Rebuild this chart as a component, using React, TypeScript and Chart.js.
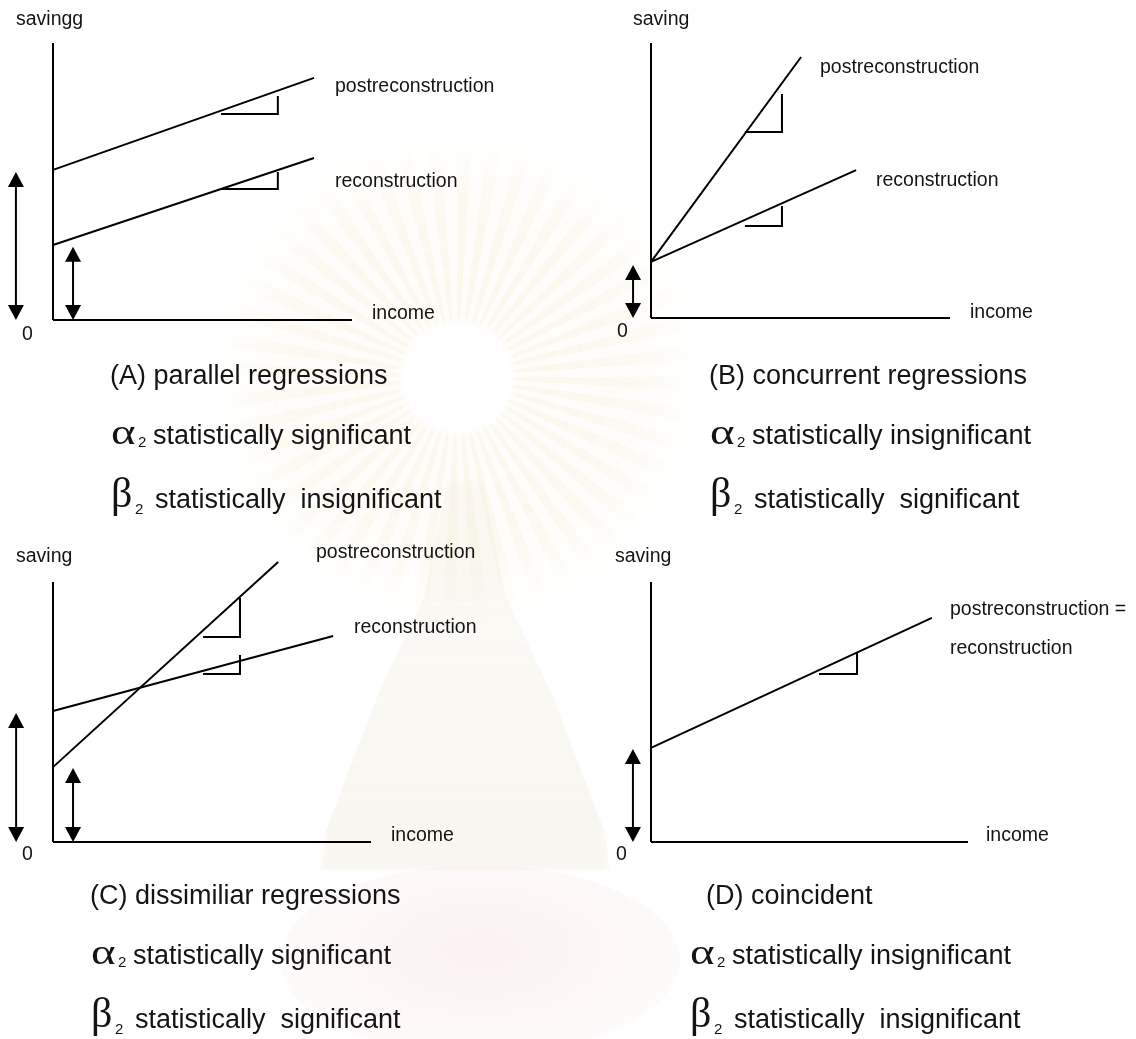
import React, { useEffect, useRef } from "react";
import { Chart, registerables } from "chart.js";

Chart.register(...registerables);

// ---------------- data ----------------
const captionTitles = [
  "(A) parallel regressions",
  "(B) concurrent regressions",
  "(C) dissimiliar regressions",
  "(D) coincident",
];
const alphaVerdicts = ["statistically significant", "statistically insignificant", "statistically significant", "statistically insignificant"];
const betaVerdicts = ["statistically  insignificant", "statistically  significant", "statistically  significant", "statistically  insignificant"];
const yAxisLabels = ["savingg", "saving", "saving", "saving"];
const xAxisLabel = "income";
const originLabel = "0";
const postLabels = ["postreconstruction", "postreconstruction", "postreconstruction", "postreconstruction ="];
const recoLabels = ["reconstruction", "reconstruction", "reconstruction", "reconstruction"];

const incomeAxisMax = 10;
const savingAxisMax = 10;

// postreconstruction regression line: intercept, end point
const postIntercept = [5.42, 2.04, 2.88, 3.62];
const postEndIncome = [8.73, 5.02, 7.08, 8.86];
const postEndSaving = [8.74, 9.49, 10.77, 8.62];
// reconstruction regression line (D: coincides with postreconstruction)
const recoIntercept: (number | null)[] = [2.71, 2.04, 5.04, null];
const recoEndIncome: (number | null)[] = [8.73, 6.86, 8.81, null];
const recoEndSaving: (number | null)[] = [5.85, 5.38, 7.92, null];

// slope markers [from, to]
const postSlopeIncome = [[5.62, 7.52], [3.14, 4.38], [4.72, 5.88], [5.3, 6.5]];
const postSlopeSaving = [[7.44, 8.09], [6.76, 8.15], [7.88, 9.38], [6.46, 7.27]];
const recoSlopeIncome: (number[] | null)[] = [[5.62, 7.52], [3.14, 4.38], [4.72, 5.88], null];
const recoSlopeSaving: (number[] | null)[] = [[4.73, 5.34], [3.35, 4.07], [6.46, 7.19], null];

// intercept arrows (income position, saving top)
const outerArrowIncome = [-1.24, -0.6, -1.16, -0.57];
const outerArrowTop = [5.34, 1.93, 4.96, 3.58];
const innerArrowIncome: (number | null)[] = [0.67, null, 0.63, null];
const innerArrowTop: (number | null)[] = [2.64, null, 2.85, null];

// ---------------- layout ----------------
const PANEL_W = 568;
const PANEL_H = 520;
const panelOrigins = [[0, 0], [568, 0], [0, 520], [568, 520]];
const plotBoxes = [
  { left: 53, top: 43, right: 352, bottom: 320 },
  { left: 83, top: 43, right: 382, bottom: 318 },
  { left: 53, top: 62, right: 371, bottom: 322 },
  { left: 83, top: 62, right: 400, bottom: 322 },
];
const textPos = [
  { yLab: [16, 25], post: [335, 92], reco: [335, 187], inc: [372, 319], zero: [22, 340], capX: 110, greekX: 110 },
  { yLab: [65, 25], post: [252, 73], reco: [308, 186], inc: [402, 318], zero: [49, 337], capX: 141, greekX: 141 },
  { yLab: [16, 42], post: [316, 38], reco: [354, 113], inc: [391, 321], zero: [22, 340], capX: 90, greekX: 90 },
  { yLab: [47, 42], post: [382, 95], reco: [382, 134], inc: [418, 321], zero: [48, 340], capX: 138, greekX: 121 },
];
const captionBaselines = [384, 444, 508];

const LINE_INK = "#000000";
const TEXT_INK = "#141414";
const LABEL_FONT = "19.5px 'Liberation Sans', Arial, sans-serif";
const CAPTION_FONT = "27px 'Liberation Sans', Arial, sans-serif";
const ALPHA_FONT = "36px 'Liberation Serif', 'Times New Roman', serif";
const BETA_FONT = "42px 'Liberation Serif', 'Times New Roman', serif";
const SUB_FONT = "15px 'Liberation Sans', Arial, sans-serif";

type Pt = { x: number; y: number };

function lineDs(points: Pt[], width = 2) {
  return {
    type: "line" as const,
    data: points,
    borderColor: LINE_INK,
    backgroundColor: LINE_INK,
    borderWidth: width,
    pointRadius: 0,
    pointHoverRadius: 0,
    fill: false,
    tension: 0,
    clip: false as any,
    borderCapStyle: "butt" as const,
    borderJoinStyle: "miter" as const,
  };
}

function drawArrow(ctx: CanvasRenderingContext2D, px: number, top: number, bottom: number) {
  const hw = 8;
  const hh = 15;
  ctx.save();
  ctx.strokeStyle = LINE_INK;
  ctx.fillStyle = LINE_INK;
  ctx.lineWidth = 2;
  ctx.beginPath();
  ctx.moveTo(px, top + hh - 1);
  ctx.lineTo(px, bottom - hh + 1);
  ctx.stroke();
  ctx.beginPath();
  ctx.moveTo(px, top);
  ctx.lineTo(px - hw, top + hh);
  ctx.lineTo(px + hw, top + hh);
  ctx.closePath();
  ctx.fill();
  ctx.beginPath();
  ctx.moveTo(px, bottom);
  ctx.lineTo(px - hw, bottom - hh);
  ctx.lineTo(px + hw, bottom - hh);
  ctx.closePath();
  ctx.fill();
  ctx.restore();
}

function txt(ctx: CanvasRenderingContext2D, s: string, x: number, y: number, font: string, scaleX = 1) {
  ctx.save();
  ctx.font = font;
  ctx.fillStyle = TEXT_INK;
  ctx.textAlign = "left";
  ctx.textBaseline = "alphabetic";
  ctx.translate(x, y);
  ctx.scale(scaleX, 1);
  ctx.fillText(s, 0, 0);
  ctx.restore();
}

function makeOverlay(i: number) {
  return {
    id: "overlay" + i,
    afterDraw(chart: any) {
      const ctx: CanvasRenderingContext2D = chart.ctx;
      const xs = chart.scales.x;
      const ys = chart.scales.y;
      ctx.save();
      // intercept arrows
      drawArrow(ctx, xs.getPixelForValue(outerArrowIncome[i]), ys.getPixelForValue(outerArrowTop[i]), ys.getPixelForValue(0));
      const ia = innerArrowIncome[i];
      const it = innerArrowTop[i];
      if (ia !== null && it !== null) {
        drawArrow(ctx, xs.getPixelForValue(ia), ys.getPixelForValue(it), ys.getPixelForValue(0));
      }
      // labels
      const tp = textPos[i];
      txt(ctx, yAxisLabels[i], tp.yLab[0], tp.yLab[1], LABEL_FONT);
      txt(ctx, postLabels[i], tp.post[0], tp.post[1], LABEL_FONT);
      txt(ctx, recoLabels[i], tp.reco[0], tp.reco[1], LABEL_FONT);
      txt(ctx, xAxisLabel, tp.inc[0], tp.inc[1], LABEL_FONT);
      txt(ctx, originLabel, tp.zero[0], tp.zero[1], LABEL_FONT);
      // captions
      txt(ctx, captionTitles[i], tp.capX, captionBaselines[0], CAPTION_FONT);
      const gx = tp.greekX;
      txt(ctx, "\u03B1", gx + 1, captionBaselines[1], ALPHA_FONT, 1.3);
      txt(ctx, "2", gx + 28, captionBaselines[1] + 3, SUB_FONT);
      txt(ctx, alphaVerdicts[i], gx + 43, captionBaselines[1], CAPTION_FONT);
      txt(ctx, "\u03B2", gx + 1, captionBaselines[2] - 1, BETA_FONT, 1.0);
      txt(ctx, "2", gx + 25, captionBaselines[2] + 6, SUB_FONT);
      txt(ctx, betaVerdicts[i], gx + 45, captionBaselines[2], CAPTION_FONT);
      ctx.restore();
    },
  };
}

function Panel({ i }: { i: number }) {
  const ref = useRef<HTMLCanvasElement>(null);
  useEffect(() => {
    if (!ref.current) return;
    const box = plotBoxes[i];
    const datasets: any[] = [];
    datasets.push(lineDs([{ x: 0, y: 0 }, { x: 0, y: savingAxisMax }]));
    datasets.push(lineDs([{ x: 0, y: 0 }, { x: incomeAxisMax, y: 0 }]));
    datasets.push(lineDs([{ x: 0, y: postIntercept[i] }, { x: postEndIncome[i], y: postEndSaving[i] }]));
    const ri = recoIntercept[i];
    const rx = recoEndIncome[i];
    const ry = recoEndSaving[i];
    if (ri !== null && rx !== null && ry !== null) {
      datasets.push(lineDs([{ x: 0, y: ri }, { x: rx, y: ry }]));
    }
    const ps = postSlopeIncome[i];
    const pv = postSlopeSaving[i];
    datasets.push(lineDs([{ x: ps[0], y: pv[0] }, { x: ps[1], y: pv[0] }, { x: ps[1], y: pv[1] }]));
    const rs = recoSlopeIncome[i];
    const rv = recoSlopeSaving[i];
    if (rs && rv) {
      datasets.push(lineDs([{ x: rs[0], y: rv[0] }, { x: rs[1], y: rv[0] }, { x: rs[1], y: rv[1] }]));
    }
    const chart = new Chart(ref.current, {
      type: "line",
      data: { datasets },
      options: {
        responsive: false,
        maintainAspectRatio: false,
        animation: false,
        events: [],
        layout: {
          padding: { left: box.left, top: box.top, right: PANEL_W - box.right, bottom: PANEL_H - box.bottom },
        },
        plugins: { legend: { display: false }, tooltip: { enabled: false }, title: { display: false } },
        scales: {
          x: { type: "linear", display: false, min: 0, max: incomeAxisMax },
          y: { type: "linear", display: false, min: 0, max: savingAxisMax },
        },
      },
      plugins: [makeOverlay(i)],
    } as any);
    return () => chart.destroy();
  }, [i]);
  return (
    <canvas
      ref={ref}
      width={PANEL_W}
      height={PANEL_H}
      style={{ position: "absolute", left: panelOrigins[i][0], top: panelOrigins[i][1], width: PANEL_W, height: PANEL_H }}
    />
  );
}

export default function App() {
  const cx = 457;
  const cy = 377;
  const rayMask = `radial-gradient(circle at ${cx}px ${cy}px, rgba(0,0,0,0) 52px, rgba(0,0,0,1) 62px, rgba(0,0,0,0.9) 170px, rgba(0,0,0,0) 250px)`;
  return (
    <div style={{ position: "absolute", left: 0, top: 0, width: 1136, height: 1039, overflow: "hidden", background: "#ffffff" }}>
      {/* faint emblem watermark */}
      <div
        style={{
          position: "absolute",
          left: 0,
          top: 0,
          width: 1136,
          height: 1039,
          background: `repeating-conic-gradient(from 0deg at ${cx}px ${cy}px, rgba(236,214,150,0.16) 0deg 3.5deg, rgba(236,214,150,0.05) 3.5deg 7.5deg)`,
          WebkitMaskImage: rayMask,
          maskImage: rayMask,
        } as any}
      />
      <div
        style={{
          position: "absolute",
          left: 320,
          top: 480,
          width: 290,
          height: 390,
          background: "linear-gradient(180deg, rgba(236,228,205,0.16), rgba(230,220,195,0.24))",
          clipPath: "polygon(44% 0%, 56% 0%, 64% 30%, 80% 55%, 98% 90%, 100% 100%, 0% 100%, 2% 90%, 20% 55%, 36% 30%)",
          filter: "blur(4px)",
        }}
      />
      <div
        style={{
          position: "absolute",
          left: 280,
          top: 865,
          width: 400,
          height: 190,
          borderRadius: "50%",
          background: "radial-gradient(ellipse at 50% 45%, rgba(244,205,205,0.28), rgba(246,218,218,0.16) 60%, rgba(255,255,255,0) 100%)",
        }}
      />
      {[0, 1, 2, 3].map((i) => (
        <Panel key={i} i={i} />
      ))}
    </div>
  );
}
